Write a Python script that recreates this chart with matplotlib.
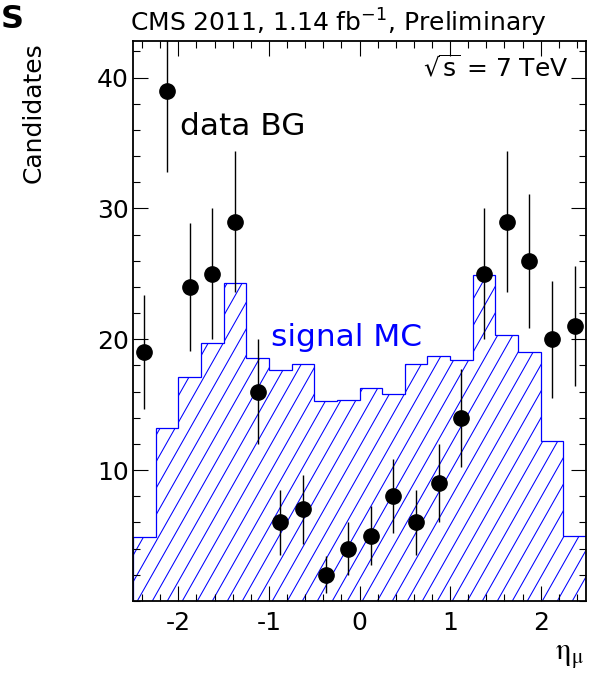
import numpy as np
import matplotlib
matplotlib.use("Agg")
import matplotlib.pyplot as plt
from matplotlib.ticker import MultipleLocator, FixedLocator
from matplotlib.collections import LineCollection

plt.rcParams['font.family'] = ['DejaVu Sans']

# ---- data ----
bin_edges = np.linspace(-2.5, 2.5, 21)
signal_mc = [4.9, 13.2, 17.1, 19.7, 24.3, 18.6, 17.65, 18.1, 15.3, 15.4,
             16.3, 15.8, 18.15, 18.7, 18.45, 24.9, 20.3, 19.0, 12.2, 4.95]
data_bg = [19, 39, 24, 25, 29, 16, 6, 7, 2, 4,
           5, 8, 6, 9, 14, 25, 29, 26, 20, 21]
y_ticks = [10, 20, 30, 40]
x_ticks = [-2, -1, 0, 1, 2]

W, H = 598, 676
fig = plt.figure(figsize=(W / 100, H / 100), dpi=100)
ax = fig.add_axes([133 / W, 1 - 601 / H, (586 - 133) / W, (601 - 41) / H])

centers = 0.5 * (bin_edges[:-1] + bin_edges[1:])
vals = np.array(data_bg, dtype=float)
errs = np.sqrt(vals)

# signal MC histogram: invisible fill used as clip path for custom hatching
fillpatch = ax.stairs(signal_mc, bin_edges, fill=True, facecolor='none',
                      edgecolor='none', linewidth=0, baseline=0, zorder=1)
ax.stairs(signal_mc, bin_edges, fill=False, color='#0000ff', linewidth=0.9,
          baseline=0, zorder=2)

# hatch lines (~60 deg, ~15 px apart), clipped to the histogram
ax_w_px = 586 - 133
ax_h_px = 601 - 41
slope = np.tan(np.radians(60.5)) * ax_w_px / ax_h_px
step = 15.0 / ax_w_px
x0s = np.arange(0.0095 - 40 * step, 1.05, step)
segs = [[(x0, 0.0), (x0 + 1.0 / slope, 1.0)] for x0 in x0s]
lc = LineCollection(segs, colors='#0000ff', linewidths=0.75,
                    transform=ax.transAxes, zorder=1.5)
ax.add_collection(lc)
lc.set_clip_path(fillpatch)

# data points with Poisson errors
ax.errorbar(centers, vals, yerr=errs, fmt='o', color='black', ms=11,
            elinewidth=1.0, capsize=0, zorder=4)

ax.set_xlim(-2.5, 2.5)
ax.set_ylim(0, 42.8)
ax.xaxis.set_major_locator(FixedLocator(x_ticks))
ax.xaxis.set_minor_locator(MultipleLocator(0.2))
ax.yaxis.set_major_locator(FixedLocator(y_ticks))
ax.yaxis.set_minor_locator(MultipleLocator(2))
ax.set_xticklabels(['-2', '-1', '0', '1', '2'])
ax.tick_params(which='both', direction='in', top=True, right=True,
               width=0.8, colors='black', labelsize=18)
ax.tick_params(which='major', length=10.5)
ax.tick_params(which='minor', length=5)
ax.tick_params(axis='y', pad=3)
ax.tick_params(axis='x', pad=7)
for s in ax.spines.values():
    s.set_linewidth(1.3)

# texts
fig.text(130 / W, 1 - 32 / H, r'CMS 2011, 1.14 fb$^{-1}$, Preliminary',
         ha='left', va='baseline', fontsize=18, math_fontfamily='dejavusans')
fig.text(568 / W, 1 - 76 / H, r'$\sqrt{\mathrm{s}}$ = 7 TeV',
         ha='right', va='baseline', fontsize=18, math_fontfamily='dejavusans')
fig.text(180 / W, 1 - 135 / H, 'data BG', ha='left', va='baseline',
         fontsize=22.5, color='black')
fig.text(271 / W, 1 - 346 / H, 'signal MC', ha='left', va='baseline',
         fontsize=22.5, color='#0000ff')
fig.text(34 / W, 1 - 42 / H, 'Candidates', rotation=90, ha='center',
         va='top', fontsize=18)
fig.text(555 / W, 1 - 660 / H, r'$\mathrm{\eta}_{\mathrm{\mu}}$', ha='left',
         va='baseline', fontsize=22, math_fontfamily='stix')
fig.text(0.5 / W, 1 - 28 / H, 'S', ha='left', va='baseline',
         fontsize=23, fontweight='bold')

fig.savefig('out.png', dpi=100)
